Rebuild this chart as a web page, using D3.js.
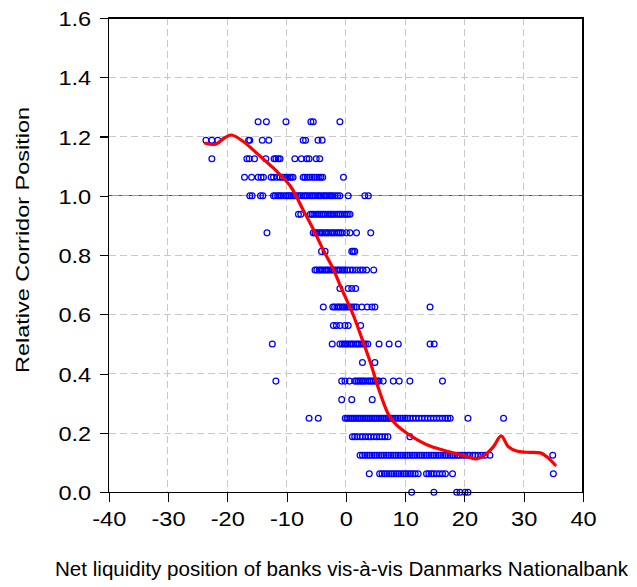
<!DOCTYPE html>
<html>
<head>
<meta charset="utf-8">
<script src="https://cdn.jsdelivr.net/npm/d3@7"></script>
<style>
  html, body { margin: 0; padding: 0; background: #fff; }
  svg { display: block; }
  text { font-family: "Liberation Sans", Arial, sans-serif; fill: #000; }
</style>
</head>
<body>
<svg id="chart" width="637" height="587"></svg>
<script>
// Axis ticks
const xTicks = [-40, -30, -20, -10, 0, 10, 20, 30, 40];
const yTicks = [0, 0.2, 0.4, 0.6, 0.8, 1.0, 1.2, 1.4, 1.6];

// Observations: net liquidity position (x) grouped by relative corridor position (y)
const row1250 = [-14.8, -13.4, -10.1, -5.9, -5.5, -1.0];
const row1188 = [-23.6, -22.6, -21.6, -16.4, -16.2, -14.1, -13.0, -7.2, -6.8, -4.7, -4.0];
const row1125 = [-22.6, -16.7, -16.3, -15.4, -13.5, -12.1, -11.8, -11.4, -11.1, -8.6, -7.5, -6.6, -6.2, -5.0, -4.4];
const row1063 = [-17.1, -15.9, -14.8, -14.3, -13.9, -12.6, -12.2, -11.6, -11.1, -10.7, -10.3, -9.9, -9.5, -9.2, -8.9,
                 -7.2, -6.9, -6.5, -6.1, -5.7, -5.3, -4.9, -4.5, -4.2, -3.9, -0.4];
const row1000 = [-16.2, -15.8, -14.4, -14.0, -12.2, -11.9, -11.5, -11.2, -10.9, -10.5, -10.1, -9.8, -9.5, -9.2,
                 -8.8, -8.5, -8.1, -7.8, -7.5, -7.1, -6.8, -6.5, -6.1, -5.8, -5.5, -5.2, -4.8, -4.5, -4.2,
                 -3.8, -3.5, -3.2, -2.8, -2.5, -2.2, -1.8, -1.4, -1.0, 0.4, 3.2, 3.8];
const row0938 = [-8.0, -7.6, -6.0, -5.7, -5.4, -5.0, -4.7, -4.4, -4.1, -3.8, -3.5, -3.1, -2.8, -2.5, -2.2,
                 -1.9, -1.5, -1.2, -0.9, -0.6, -0.2, 0.1, 0.4, 0.7];
const row0875 = [-13.3, -5.5, -5.2, -4.9, -4.5, -4.2, -3.9, -3.5, -3.2, -2.9, -2.5, -2.2, -1.9, -1.5, -1.2,
                 -0.9, -0.6, 0.1, 0.7, 1.8, 4.2];
const row0813 = [-4.1, -3.5, 1.0, 1.25, 1.5];
const row0750 = [-5.2, -4.9, -4.5, -4.2, -3.9, -3.5, -3.2, -2.9, -2.5, -2.2, -1.9, -1.5, -1.2, -0.9, -0.5,
                 -0.2, 0.2, 0.7, 1.2, 1.8, 2.4, 2.9, 3.5, 4.7];
const row0688 = [-1.0, 0.4, 1.0, 1.65];
const row0625 = [-3.8, -2.2, -1.9, -1.5, -1.2, -0.9, -0.5, -0.2, 0.2, 0.6, 1.0, 1.4, 1.8, 2.7, 3.6, 4.4, 4.9, 14.2];
const row0563 = [-2.1, -1.6, -1.0, -0.15, 0.4, 2.5];
const row0500 = [-12.4, -2.3, -1.0, -0.6, -0.3, 0.0, 0.3, 0.7, 1.0, 1.3, 1.7, 2.0, 2.3, 2.7, 3.0, 3.3, 3.7,
                 5.6, 7.3, 8.85, 14.2, 14.9];
const row0438 = [2.8, 4.9];
const row0375 = [-11.8, -0.7, -0.15, 0.6, 1.5, 1.8, 2.1, 2.4, 2.7, 3.0, 3.3, 3.7, 4.0, 4.3, 4.6, 5.0, 5.3,
                 5.6, 6.3, 8.0, 9.0, 10.8, 16.3];
const row0313 = [-0.7, 1.0, 4.45];
const row0250 = [-6.2, -4.65, -0.1, 0.2, 0.5, 0.8, 1.1, 1.4, 1.7, 2.0, 2.3, 2.6, 2.9, 3.2, 3.5, 3.8, 4.1,
                 4.4, 4.7, 5.0, 5.3, 5.6, 5.9, 6.2, 6.5, 6.8, 7.1, 7.4, 7.7, 8.0, 8.4, 8.8, 9.2, 9.6, 10.0,
                 10.4, 10.8, 11.3, 11.8, 12.3, 12.8, 13.3, 13.8, 14.3, 14.8, 15.3, 15.8, 16.3, 16.8, 17.2,
                 17.6, 20.6, 26.6];
const row0188 = [1.1, 1.5, 1.9, 2.4, 2.8, 3.3, 3.8, 4.2, 4.7, 5.2, 5.7, 6.1, 6.6, 7.1, 10.8];
const row0125 = [2.4, 2.8, 3.2, 3.6, 4.0, 4.4, 4.8, 5.2, 5.6, 6.0, 6.4, 6.8, 7.2, 7.6, 8.0, 8.4, 8.8, 9.2,
                 9.6, 10.0, 10.4, 10.8, 11.2, 11.6, 12.0, 12.4, 12.8, 13.2, 13.6, 14.0, 14.4, 14.8, 15.2,
                 15.6, 16.0, 16.4, 16.8, 17.2, 17.6, 18.0, 18.4, 18.8, 19.2, 19.7, 20.1, 20.6, 20.9, 21.4,
                 21.8, 22.3, 22.9, 23.5, 24.3, 34.9];
const row0063 = [3.95, 5.7, 6.1, 6.5, 6.9, 7.3, 7.7, 8.1, 8.5, 8.9, 9.3, 9.7, 10.1, 10.5, 10.9, 11.3, 11.7,
                 12.2, 13.6, 14.0, 14.4, 14.8, 15.3, 15.8, 16.3, 16.8, 18.0, 35.0];
const row0000 = [11.1, 14.85, 18.7, 19.25, 20.1, 20.6];

const rows = [
  [1.25, row1250], [1.1875, row1188], [1.125, row1125], [1.0625, row1063], [1.0, row1000],
  [0.9375, row0938], [0.875, row0875], [0.8125, row0813], [0.75, row0750], [0.6875, row0688],
  [0.625, row0625], [0.5625, row0563], [0.5, row0500], [0.4375, row0438], [0.375, row0375],
  [0.3125, row0313], [0.25, row0250], [0.1875, row0188], [0.125, row0125], [0.0625, row0063],
  [0.0, row0000]
];
const points = rows.flatMap(([level, xs]) => xs.map(v => ({ x: v, y: level })));

// Smoothed fit
const fitX = [-23.7, -22.0, -20.5, -19.3, -17.3, -15.0, -12.2, -9.4, -7.2, -5.5, -3.8, -2.1, -0.8, 0.0,
              1.25, 2.7, 4.1, 5.5, 7.2, 8.5, 10.3, 12.0, 14.2, 16.5, 18.7, 20.5, 22.1, 23.7, 24.9, 26.2,
              27.4, 28.8, 30.5, 32.8, 33.9, 35.3];
const fitY = [1.177, 1.174, 1.195, 1.205, 1.183, 1.143, 1.093, 1.034, 0.952, 0.888, 0.817, 0.752, 0.69, 0.655,
              0.598, 0.519, 0.44, 0.351, 0.262, 0.228, 0.199, 0.178, 0.156, 0.142, 0.130, 0.120, 0.113, 0.130,
              0.154, 0.19, 0.154, 0.139, 0.135, 0.133, 0.120, 0.092];

const svg = d3.select("#chart");
const plotLeft = 108.7, plotRight = 583, plotTop = 17.9, plotBottom = 492.3;
const x = d3.scaleLinear().domain([-40, 40]).range([plotLeft, plotRight]);
const y = d3.scaleLinear().domain([0, 1.6]).range([plotBottom, plotTop]);

// Grid
const grid = svg.append("g").attr("shape-rendering", "crispEdges");
grid.selectAll("line.gx").data(xTicks.filter(d => d > -40 && d < 40)).join("line")
  .attr("class", "gx")
  .attr("x1", d => x(d)).attr("x2", d => x(d)).attr("y1", plotTop).attr("y2", plotBottom)
  .attr("stroke", "#c8c8c8").attr("stroke-dasharray", "7,4");
grid.selectAll("line.gy").data(yTicks.filter(d => d > 0 && d < 1.6 && d !== 1.0)).join("line")
  .attr("class", "gy")
  .attr("x1", plotLeft).attr("x2", plotRight).attr("y1", d => y(d)).attr("y2", d => y(d))
  .attr("stroke", "#c8c8c8").attr("stroke-dasharray", "7,4");

// Reference line at the corridor's upper bound
grid.append("line")
  .attr("x1", plotLeft).attr("x2", plotRight).attr("y1", y(1.0)).attr("y2", y(1.0))
  .attr("stroke", "#9a9a9a");
grid.append("line")
  .attr("x1", plotLeft).attr("x2", plotRight).attr("y1", y(1.0)).attr("y2", y(1.0))
  .attr("stroke", "#555").attr("stroke-dasharray", "3,7");

// Observations
svg.append("g").selectAll("circle").data(points).join("circle")
  .attr("cx", d => x(d.x)).attr("cy", d => y(d.y)).attr("r", 2.9)
  .attr("fill", "none").attr("stroke", "#0000ff").attr("stroke-width", 1.25);

// Fit line
const fit = fitX.map((v, i) => [v, fitY[i]]);
svg.append("path").datum(fit)
  .attr("d", d3.line().x(d => x(d[0])).y(d => y(d[1])).curve(d3.curveCatmullRom.alpha(0.5)))
  .attr("fill", "none").attr("stroke", "#ff0000").attr("stroke-width", 3.2)
  .attr("stroke-linejoin", "round").attr("stroke-linecap", "round");

// Frame
svg.append("rect").attr("x", plotLeft).attr("y", plotTop)
  .attr("width", plotRight - plotLeft).attr("height", plotBottom - plotTop)
  .attr("fill", "none").attr("stroke", "#000").attr("stroke-width", 1.2).attr("shape-rendering", "crispEdges");

// Axes
const yAxis = svg.append("g").attr("transform", `translate(${plotLeft},0)`)
  .call(d3.axisLeft(y).tickValues(yTicks).tickSize(9).tickFormat(d3.format(".1f")));
const xAxis = svg.append("g").attr("transform", `translate(0,${plotBottom})`)
  .call(d3.axisBottom(x).tickValues(xTicks).tickSize(10).tickFormat(d3.format("d")));
[yAxis, xAxis].forEach(g => {
  g.select(".domain").remove();
  g.attr("font-family", "'Liberation Sans', Arial, sans-serif").attr("font-size", 20);
  g.selectAll(".tick line").attr("stroke", "#000").attr("stroke-width", 1.1).attr("shape-rendering", "crispEdges");
  g.selectAll(".tick text").attr("fill", "#000").attr("x", 0).attr("y", 0).attr("dy", null);
});
yAxis.selectAll(".tick text").attr("text-anchor", "end")
  .attr("transform", "translate(-17.5,7.5) scale(1.18,1)");
xAxis.selectAll(".tick text").attr("text-anchor", "middle")
  .text(d => d3.format("d")(d).replace("\u2212", "-"))
  .attr("transform", "translate(0,33.4) scale(1.18,1)");

// Axis titles
svg.append("text")
  .attr("transform", "translate(29,240) rotate(-90)")
  .attr("text-anchor", "middle").attr("font-size", 19)
  .attr("textLength", 266).attr("lengthAdjust", "spacingAndGlyphs")
  .text("Relative Corridor Position");
svg.append("text")
  .attr("x", 341.5).attr("y", 576)
  .attr("text-anchor", "middle").attr("font-size", 20)
  .attr("textLength", 573).attr("lengthAdjust", "spacingAndGlyphs")
  .text("Net liquidity position of banks vis-à-vis Danmarks Nationalbank");
</script>
</body>
</html>
